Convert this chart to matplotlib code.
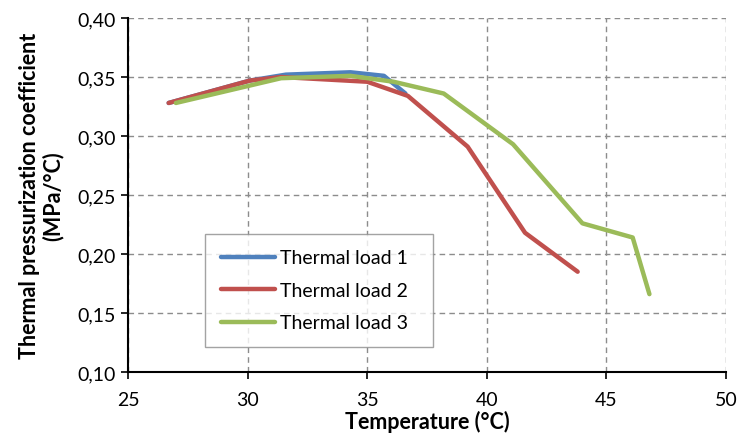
import matplotlib
matplotlib.use("Agg")
import matplotlib.pyplot as plt
from matplotlib.ticker import FuncFormatter, MultipleLocator

plt.rcParams['font.family'] = ['Lato', 'DejaVu Sans']

t1 = [26.7, 30.1, 31.6, 34.3, 35.7, 36.6]
v1 = [0.328, 0.347, 0.352, 0.354, 0.351, 0.336]
t2 = [26.7, 30.1, 31.4, 35.0, 36.7, 39.2, 41.6, 43.8]
v2 = [0.328, 0.347, 0.350, 0.346, 0.334, 0.291, 0.218, 0.185]
t3 = [27.0, 31.4, 34.3, 36.1, 38.2, 41.1, 44.0, 46.1, 46.8]
v3 = [0.328, 0.349, 0.351, 0.346, 0.336, 0.293, 0.226, 0.214, 0.166]
labels = ["Thermal load 1", "Thermal load 2", "Thermal load 3"]
colors = ["#4F81BD", "#C0504D", "#9BBB59"]

fig = plt.figure(figsize=(7.37, 4.39), dpi=100)
ax = fig.add_axes([0.1737, 0.1503, 0.985 - 0.1737, 0.9567 - 0.1503])

for t, v, lab, c in zip([t1, t2, t3], [v1, v2, v3], labels, colors):
    ax.plot(t, v, color=c, lw=3.2, label=lab, solid_capstyle='round', solid_joinstyle='round')

ax.set_xlim(25, 50)
ax.set_ylim(0.10, 0.40)
ax.xaxis.set_major_locator(MultipleLocator(5))
ax.yaxis.set_major_locator(MultipleLocator(0.05))
ax.yaxis.set_major_formatter(FuncFormatter(lambda y, p: f"{y:.2f}".replace('.', ',')))
ax.grid(True, color='#8c8c8c', ls=(0, (4, 3)), lw=1.0)
ax.set_axisbelow(True)
for s in ['top', 'right']:
    ax.spines[s].set_visible(False)
for s in ['left', 'bottom']:
    ax.spines[s].set_linewidth(1.5)
ax.tick_params(axis='both', labelsize=14, direction='out', length=5, width=1.2, colors='black')
ax.tick_params(axis='y', pad=4)
ax.tick_params(axis='x', pad=9)

ax.set_xlabel("Temperature (°C)", fontsize=15.5, fontweight='bold', labelpad=1)
ax.set_ylabel("Thermal pressurization coefficient\n(MPa/°C)", fontsize=15.5, fontweight='bold',
              labelpad=10, linespacing=1.1)

leg = ax.legend(loc='lower left', bbox_to_anchor=(0.129, 0.0706, 0.381, 0.319), mode='expand',
                borderaxespad=0, fontsize=14, frameon=True, fancybox=False, edgecolor='#8c8c8c',
                handlelength=2.8, handletextpad=0.25, labelspacing=0.8, borderpad=0.8)
leg.get_frame().set_linewidth(1.0)

fig.savefig("out.png", dpi=100)
